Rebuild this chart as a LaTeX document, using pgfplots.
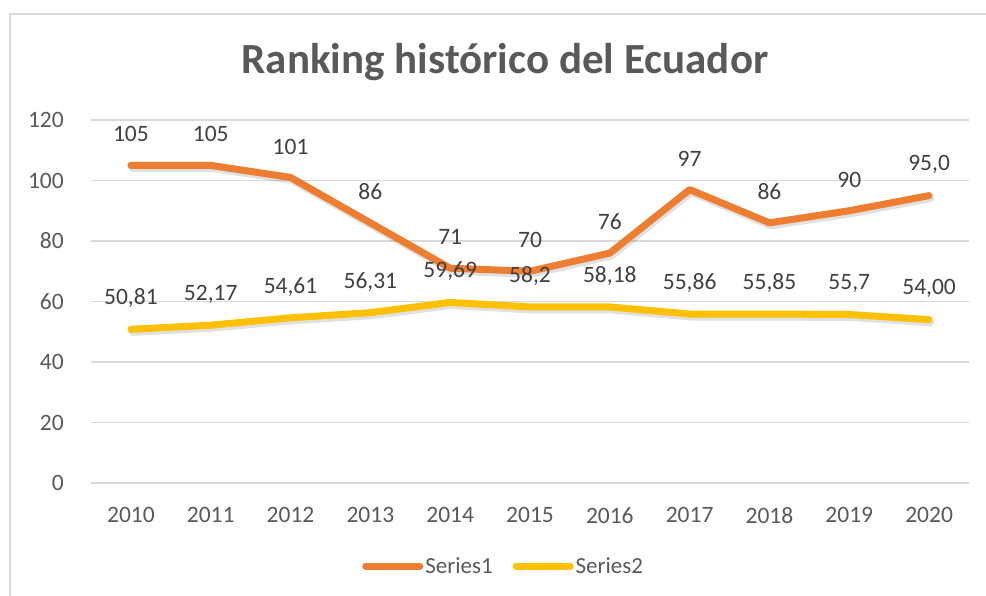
\documentclass[border=0pt]{standalone}
\usepackage{fontspec}
\setmainfont{Carlito}
\usepackage{pgfplots}
\pgfplotsset{compat=1.18}
\usepackage{pgfplotstable}

\definecolor{sone}{HTML}{ED7D31}
\definecolor{stwo}{HTML}{FFC000}
\definecolor{gridc}{HTML}{D9D9D9}
\definecolor{tickc}{HTML}{595959}
\definecolor{labc}{HTML}{404040}

\pgfplotstableread{
x s1 l1 s2 l2
0 105 105 50.81 50,81
1 105 105 52.17 52,17
2 101 101 54.61 54,61
3 86 86 56.31 56,31
4 71 71 59.69 59,69
5 70 70 58.2 58,2
6 76 76 58.18 58,18
7 97 97 55.86 55,86
8 86 86 55.85 55,85
9 90 90 55.7 55,7
10 95 95,0 54.00 54,00
}\data

\begin{document}
\begin{tikzpicture}
\begin{axis}[
  scale only axis,
  width=878pt, height=363pt,
  xmin=-0.5, xmax=10.5, ymin=0, ymax=120,
  xtick={0,...,10},
  xticklabels={2010,2011,2012,2013,2014,2015,2016,2017,2018,2019,2020},
  ytick={0,20,...,120},
  ymajorgrids,
  grid style={gridc, line width=1.5pt},
  axis line style={draw=none},
  major tick length=0pt,
  /pgf/number format/assume math mode=true,
  tick label style={font=\fontsize{23.5}{28}\selectfont, text=tickc},
  yticklabel style={anchor=east, inner sep=0pt, xshift=-27pt},
  xticklabel style={anchor=north, inner sep=0pt, yshift=-24pt},
  legend style={at={(0.47,-0.229)}, anchor=center, draw=none, fill=none,
    legend columns=2, font=\fontsize{23}{28}\selectfont, text=tickc,
    /tikz/every even column/.append style={column sep=18pt}},
  legend image code/.code={\draw[#1, line cap=round] (0pt,0pt) -- (54pt,0pt);},
  nodes near coords={\pgfplotspointmeta},
  point meta=explicit symbolic,
  every node near coord/.append style={anchor=center, yshift=31pt,
    font=\fontsize{23.5}{28}\selectfont, text=labc},
]
\addplot[black, opacity=0.12, line width=7pt, line join=round, line cap=round,
  forget plot, transform canvas={xshift=1.5pt, yshift=-3pt}, nodes near coords={}]
  table[x=x, y=s1] {\data};
\addplot[black, opacity=0.12, line width=7pt, line join=round, line cap=round,
  forget plot, transform canvas={xshift=1.5pt, yshift=-3pt}, nodes near coords={}]
  table[x=x, y=s2] {\data};
\addplot[sone, line width=7pt, line join=round, line cap=round, mark=none]
  table[x=x, y=s1, meta=l1] {\data};
\addplot[stwo, line width=7pt, line join=round, line cap=round, mark=none]
  table[x=x, y=s2, meta=l2] {\data};
\legend{Series1, Series2}
\end{axis}
\node[text=tickc, font=\fontsize{43}{52}\selectfont\bfseries] at (414pt,421pt) {Ranking histórico del Ecuador};
\draw[gridc, line width=1.5pt] (-81pt,-113pt) -- (-81pt,469pt) -- (895pt,469pt);
\pgfresetboundingbox
\path[use as bounding box] (-91pt,-113pt) rectangle (895pt,483pt);
\end{tikzpicture}
\end{document}
